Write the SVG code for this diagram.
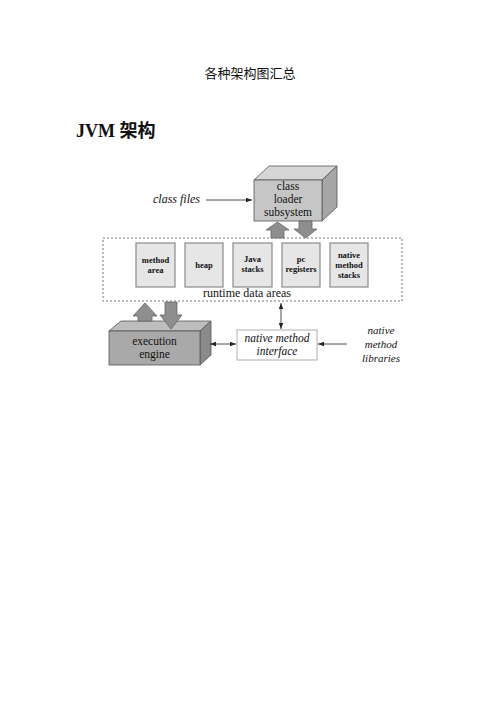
<svg xmlns="http://www.w3.org/2000/svg" width="500" height="708" viewBox="0 0 500 708">
<style>
  text { font-family: "Liberation Serif", "Times New Roman", serif; fill: #111; }
  .lbl { font-size: 12px; text-anchor: middle; }
  .ml { font-size: 11.5px; text-anchor: middle; }
  .it { font-style: italic; }
  .small { font-size: 8.5px; font-weight: bold; text-anchor: middle; }
  .face { stroke: #555; stroke-width: 0.8; }
  .mem { fill: #e6e6e6; stroke: #8a8a8a; stroke-width: 1.2; }
  .fat { fill: #8e8e8e; stroke: #666; stroke-width: 0.8; }
  .con { stroke: #222; stroke-width: 0.8; fill: none; }
</style>
<defs>
  <marker id="ah" viewBox="0 0 8 6" refX="8" refY="3" markerWidth="6" markerHeight="5" orient="auto-start-reverse" markerUnits="userSpaceOnUse">
    <path d="M0,0 L8,3 L0,6 Z" fill="#222"/>
  </marker>
</defs>
<rect width="500" height="708" fill="#fff"/>

<text x="250" y="78" font-size="13" text-anchor="middle" style="font-family:'Noto Sans CJK SC', serif">各种架构图汇总</text>
<text x="76" y="137" font-size="18" font-weight="bold"><tspan>JVM </tspan><tspan style="font-family:'Noto Sans CJK SC', serif">架构</tspan></text>

<g id="runtime-data-areas">
  <rect x="103" y="238" width="299" height="63" fill="none" stroke="#777" stroke-width="1" stroke-dasharray="2,2"/>
  <text class="lbl" x="247" y="297">runtime data areas</text>
</g>

<g id="method-area">
  <rect class="mem" x="136" y="243" width="39" height="44"/>
  <text class="small" x="155.5" y="263">method</text>
  <text class="small" x="155.5" y="273">area</text>
</g>
<g id="heap">
  <rect class="mem" x="185" y="243" width="38" height="44"/>
  <text class="small" x="204" y="268">heap</text>
</g>
<g id="java-stacks">
  <rect class="mem" x="233" y="243" width="39" height="44"/>
  <text class="small" x="252.5" y="262">Java</text>
  <text class="small" x="252.5" y="272">stacks</text>
</g>
<g id="pc-registers">
  <rect class="mem" x="282" y="243" width="38" height="44"/>
  <text class="small" x="301" y="262">pc</text>
  <text class="small" x="301" y="272">registers</text>
</g>
<g id="native-method-stacks">
  <rect class="mem" x="330" y="243" width="38" height="44"/>
  <text class="small" x="349" y="258">native</text>
  <text class="small" x="349" y="268">method</text>
  <text class="small" x="349" y="278">stacks</text>
</g>

<g id="class-loader-subsystem">
  <polygon class="face" points="254,180 269,166 337,166 322,180" fill="#d6d6d6"/>
  <polygon class="face" points="322,180 337,166 337,207 322,221" fill="#a6a6a6"/>
  <rect class="face" x="254" y="180" width="68" height="41" fill="#c6c6c6"/>
  <text class="ml" x="288" y="190">class</text>
  <text class="ml" x="288" y="203">loader</text>
  <text class="ml" x="288" y="216">subsystem</text>
</g>

<g id="execution-engine">
  <polygon class="face" points="109,331 121,321 211,321 200,331" fill="#bdbdbd"/>
  <polygon class="face" points="200,331 211,321 211,355 200,365" fill="#8a8a8a"/>
  <rect class="face" x="109" y="331" width="91" height="34" fill="#a9a9a9"/>
  <text class="ml" x="154.5" y="345">execution</text>
  <text class="ml" x="154.5" y="358">engine</text>
</g>

<g id="native-method-interface">
  <rect x="237" y="330" width="80" height="30" fill="#fff" stroke="#999" stroke-width="0.8"/>
  <text class="ml it" x="277" y="342">native method</text>
  <text class="ml it" x="277" y="355">interface</text>
</g>

<g id="class-files">
  <text class="it" x="153" y="203" font-size="12">class files</text>
</g>

<g id="native-method-libraries">
  <text class="it" x="381" y="334" font-size="11" text-anchor="middle">native</text>
  <text class="it" x="381" y="348" font-size="11" text-anchor="middle">method</text>
  <text class="it" x="381" y="362" font-size="11" text-anchor="middle">libraries</text>
</g>

<g id="connectors">
  <line class="con" x1="206" y1="200" x2="252" y2="200" marker-end="url(#ah)"/>
  <line class="con" x1="210" y1="344" x2="236" y2="344" marker-start="url(#ah)" marker-end="url(#ah)"/>
  <line class="con" x1="281" y1="303" x2="281" y2="329" marker-start="url(#ah)" marker-end="url(#ah)"/>
  <line class="con" x1="347" y1="344" x2="318" y2="344" marker-end="url(#ah)"/>
  <polygon class="fat" points="271,238 271,230 266,230 277.5,222 289,230 284,230 284,238"/>
  <polygon class="fat" points="299,221 312,221 312,229 317,229 305.5,238 294,229 299,229"/>
  <polygon class="fat" points="138,321 138,316 133,316 145,303 157,316 152,316 152,321"/>
  <polygon class="fat" points="165,302 177,302 177,315 182,315 171,329 160,315 165,315"/>
</g>
</svg>
